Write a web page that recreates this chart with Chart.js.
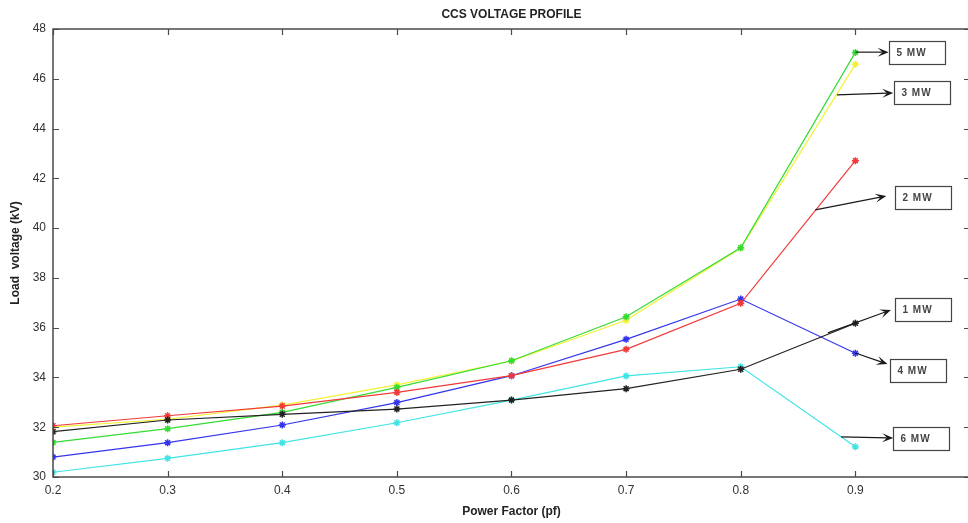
<!DOCTYPE html>
<html>
<head>
<meta charset="utf-8">
<title>CCS Voltage Profile</title>
<script src="https://cdn.jsdelivr.net/npm/chart.js@4/dist/chart.umd.min.js"></script>
<style>
  html, body { margin: 0; padding: 0; background: #fff; overflow: hidden; }
  #chartBox { width: 976px; height: 523px; }
</style>
</head>
<body>
<div id="chartBox"><canvas id="voltageProfile" width="976" height="523"></canvas></div>
<script>
// power factor steps and load voltage (kV) for each load level
const pfValues = [0.2, 0.3, 0.4, 0.5, 0.6, 0.7, 0.8, 0.9];
const xTickValues = [0.2, 0.3, 0.4, 0.5, 0.6, 0.7, 0.8, 0.9, 1.0];
const yTickValues = [30, 32, 34, 36, 38, 40, 42, 44, 46, 48];

const load1MW = [31.82, 32.29, 32.52, 32.73, 33.09, 33.55, 34.33, 36.18];
const load2MW = [32.06, 32.46, 32.85, 33.40, 34.07, 35.13, 36.98, 42.71];
const load3MW = [32.00, 32.32, 32.89, 33.70, 34.66, 36.30, 39.20, 46.58];
const load4MW = [30.80, 31.38, 32.09, 32.99, 34.07, 35.53, 37.15, 34.97];
const load5MW = [31.39, 31.94, 32.60, 33.60, 34.67, 36.44, 39.21, 47.06];
const load6MW = [30.19, 30.75, 31.38, 32.18, 33.09, 34.06, 34.43, 31.22];

const FONT = 'Arial, "Liberation Sans", sans-serif';

// text boxes with arrows pointing at each curve (data coordinates)
const callouts = [
  { text: '5 MW', from: [0.9, 47.07], to: [0.929, 47.07], box: [0.929, 47.52] },
  { text: '3 MW', from: [0.884, 45.35], to: [0.933, 45.43], box: [0.9337, 45.91] },
  { text: '2 MW', from: [0.865, 40.73], to: [0.927, 41.29], box: [0.9346, 41.69] },
  { text: '1 MW', from: [0.876, 35.79], to: [0.931, 36.71], box: [0.9346, 37.19] },
  { text: '4 MW', from: [0.9, 34.98], to: [0.928, 34.54], box: [0.930, 34.74] },
  { text: '6 MW', from: [0.8875, 31.61], to: [0.933, 31.57], box: [0.9329, 32.01] }
];

function toPoints(values) {
  return pfValues.map(function (pf, i) { return { x: pf, y: values[i] }; });
}

function makeSeries(label, values, colour, order) {
  return {
    label: label,
    data: toPoints(values),
    borderColor: colour,
    backgroundColor: colour,
    borderWidth: 1.2,
    pointStyle: 'star',
    pointRadius: 3.5,
    pointBorderWidth: 1.5,
    pointBorderColor: colour,
    tension: 0,
    order: order
  };
}

// box outline plus MATLAB style inward tick marks
const axisFrame = {
  id: 'axisFrame',
  afterDraw: function (chart) {
    const ctx = chart.ctx;
    const area = chart.chartArea;
    const xs = chart.scales.x;
    const ys = chart.scales.y;
    ctx.save();
    ctx.strokeStyle = '#4a4a4a';
    ctx.lineWidth = 1.5;
    ctx.strokeRect(area.left, area.top, area.right - area.left, area.bottom - area.top);
    ctx.lineWidth = 1.2;
    ctx.beginPath();
    xTickValues.forEach(function (v) {
      const px = Math.round(xs.getPixelForValue(v)) + 0.5;
      ctx.moveTo(px, area.bottom);
      ctx.lineTo(px, area.bottom - 6);
      ctx.moveTo(px, area.top);
      ctx.lineTo(px, area.top + 6);
    });
    yTickValues.forEach(function (v) {
      const py = Math.round(ys.getPixelForValue(v)) + 0.5;
      ctx.moveTo(area.left, py);
      ctx.lineTo(area.left + 6, py);
      ctx.moveTo(area.right, py);
      ctx.lineTo(area.right - 6, py);
    });
    ctx.stroke();
    ctx.restore();
  }
};

function drawArrow(ctx, x0, y0, x1, y1) {
  const ang = Math.atan2(y1 - y0, x1 - x0);
  const len = 11, half = 4.5;
  const cos = Math.cos(ang), sin = Math.sin(ang);
  ctx.beginPath();
  ctx.moveTo(x0, y0);
  ctx.lineTo(x1 - cos * 6, y1 - sin * 6);
  ctx.stroke();
  ctx.beginPath();
  ctx.moveTo(x1, y1);
  ctx.lineTo(x1 - cos * len - sin * half, y1 - sin * len + cos * half);
  ctx.lineTo(x1 - cos * len * 0.55, y1 - sin * len * 0.55);
  ctx.lineTo(x1 - cos * len + sin * half, y1 - sin * len - cos * half);
  ctx.closePath();
  ctx.fill();
}

const calloutLayer = {
  id: 'calloutLayer',
  afterDraw: function (chart) {
    const ctx = chart.ctx;
    const xs = chart.scales.x;
    const ys = chart.scales.y;
    ctx.save();
    ctx.strokeStyle = '#1a1a1a';
    ctx.fillStyle = '#1a1a1a';
    ctx.lineWidth = 1.2;
    callouts.forEach(function (c) {
      drawArrow(ctx,
        xs.getPixelForValue(c.from[0]), ys.getPixelForValue(c.from[1]),
        xs.getPixelForValue(c.to[0]), ys.getPixelForValue(c.to[1]));
    });
    ctx.strokeStyle = '#444';
    ctx.fillStyle = '#444';
    ctx.font = 'bold 10px ' + FONT;
    ctx.textBaseline = 'middle';
    if ('letterSpacing' in ctx) ctx.letterSpacing = '1px';
    callouts.forEach(function (c) {
      const bx = Math.round(xs.getPixelForValue(c.box[0])) + 0.5;
      const by = Math.round(ys.getPixelForValue(c.box[1])) + 0.5;
      ctx.strokeRect(bx, by, 56, 23);
      ctx.fillText(c.text, bx + 7, by + 12);
    });
    ctx.restore();
  }
};

const ctx = document.getElementById('voltageProfile').getContext('2d');
new Chart(ctx, {
  type: 'line',
  data: {
    datasets: [
      makeSeries('1 MW', load1MW, '#222222', 1),
      makeSeries('2 MW', load2MW, '#f03a3a', 2),
      makeSeries('3 MW', load3MW, '#f2f234', 6),
      makeSeries('4 MW', load4MW, '#3434ec', 3),
      makeSeries('5 MW', load5MW, '#34dc34', 4),
      makeSeries('6 MW', load6MW, '#40e4e4', 5)
    ]
  },
  options: {
    responsive: false,
    animation: false,
    devicePixelRatio: 1,
    layout: { padding: 0 },
    plugins: {
      legend: { display: false },
      tooltip: { enabled: false },
      title: {
        display: true,
        fullSize: false,
        text: 'CCS VOLTAGE PROFILE',
        color: '#222',
        font: { family: FONT, size: 12, weight: 'bold', lineHeight: 1.2 },
        padding: { top: 7, bottom: 7.6 }
      }
    },
    scales: {
      x: {
        type: 'linear',
        min: 0.2,
        max: 1.0,
        afterBuildTicks: function (scale) {
          scale.ticks = xTickValues.map(function (v) { return { value: v }; });
        },
        afterFit: function (scale) { scale.height = 46; },
        grid: { display: false, drawTicks: false },
        border: { display: false },
        ticks: {
          padding: 6,
          maxRotation: 0,
          autoSkip: false,
          color: '#333',
          font: { family: FONT, size: 12 },
          callback: function (v) { return v > 0.95 ? '' : v.toFixed(1); }
        },
        title: {
          display: true,
          text: 'Power Factor (pf)',
          color: '#222',
          font: { family: FONT, size: 12, weight: 'bold', lineHeight: 1.2 },
          padding: { top: 0, bottom: 4 }
        }
      },
      y: {
        min: 30,
        max: 48,
        afterBuildTicks: function (scale) {
          scale.ticks = yTickValues.map(function (v) { return { value: v }; });
        },
        afterFit: function (scale) { scale.width = 53; },
        grid: { display: false, drawTicks: false },
        border: { display: false },
        ticks: {
          padding: 7,
          autoSkip: false,
          color: '#333',
          font: { family: FONT, size: 12 }
        },
        title: {
          display: true,
          text: 'Load  voltage (kV)',
          color: '#222',
          font: { family: FONT, size: 12, weight: 'bold', lineHeight: 1.2 },
          padding: { top: 8, bottom: 0 }
        }
      }
    }
  },
  plugins: [axisFrame, calloutLayer]
});
</script>
</body>
</html>
